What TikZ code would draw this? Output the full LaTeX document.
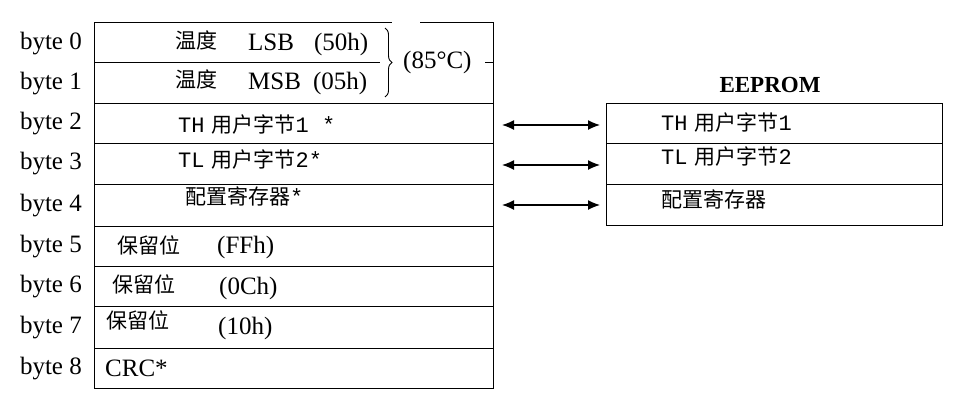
\documentclass[tikz,border=0pt]{standalone}
\usepackage{fontspec}
\setmainfont{Liberation Serif}
\newfontfamily\cjk{Noto Sans CJK SC}
\newfontfamily\mono{Liberation Mono}
\newcommand\mybit[1]{{\mono\fontsize{22}{22}\selectfont #1}}
\usetikzlibrary{decorations.pathreplacing,arrows.meta}
\begin{document}
\begin{tikzpicture}[x=1pt,y=-1pt,
  ln/.style={line width=0.9pt},
  bl/.style={anchor=east,font=\fontsize{25}{25}\selectfont,inner sep=0},
  tx/.style={anchor=west,font=\fontsize{25}{25}\selectfont,inner sep=0},
  cn/.style={anchor=west,font=\cjk\fontsize{21}{21}\selectfont,inner sep=0},
  ar/.style={{Latex[length=12pt,width=10pt]}-{Latex[length=12pt,width=10pt]},line width=1.3pt}]
\useasboundingbox (0,0) rectangle (965,408);
% left table
\draw[ln] (94,22) -- (392,22);
\draw[ln] (420,22) -- (493,22) -- (493,388) -- (94,388) -- (94,22);
\draw[ln] (94,62) -- (380,62);
\draw[ln] (485,62) -- (493,62);
\foreach \y in {103,143,184,226,266,306,348} \draw[ln] (94,\y) -- (493,\y);
\foreach \i/\y in {0/44,1/84,2/124,3/164,4/206,5/247,6/287,7/328,8/369}
  \node[bl] (b\i) at (82,\y) {byte \i};
\node[cn] (t0) at (175,40) {温度}; \node[tx] (l0) at (248,44) {LSB\hspace{20pt}(50h)};
\node[cn] (t1) at (175,79) {温度}; \node[tx] (l1) at (248,83) {MSB\hspace{12pt}(05h)};
\draw[line width=0.9pt,decorate,decoration={brace,amplitude=7pt}] (385,28) -- (385,97);
\node[tx] (c85) at (403,62) {(85°C)};
\node[cn] (r2) at (178,125) {\mybit{TH}\hspace{7pt}用户字节\mybit{1 *}};
\node[cn] (r3) at (178,160) {\mybit{TL}\hspace{7pt}用户字节\mybit{2*}};
\node[cn] (r4) at (185,196) {配置寄存器\mybit{*}};
\node[cn] (r5) at (117,245) {保留位}; \node[tx] (v5) at (217,247) {(FFh)};
\node[cn] (r6) at (112,284) {保留位}; \node[tx] (v6) at (219,288) {(0Ch)};
\node[cn] (r7) at (106,320) {保留位}; \node[tx] (v7) at (218,328) {(10h)};
\node[tx] (r8) at (105,368) {CRC*};
% EEPROM
\node[font=\bfseries\fontsize{23}{23}\selectfont] (ee) at (770,85) {EEPROM};
\draw[ln] (606,103) rectangle (942,225);
\draw[ln] (606,143) -- (942,143);
\draw[ln] (606,184) -- (942,184);
\node[cn] (e1) at (661,123) {\mybit{TH}\hspace{7pt}用户字节\mybit{1}};
\node[cn] (e2) at (661,157) {\mybit{TL}\hspace{7pt}用户字节\mybit{2}};
\node[cn] (e3) at (661,199) {配置寄存器};
\coordinate (a1) at (502,125); \coordinate (a1e) at (600,125);
\coordinate (a2) at (502,165); \coordinate (a2e) at (600,165);
\coordinate (a3) at (502,205); \coordinate (a3e) at (600,205);
\draw[ar] (a1) -- (a1e);
\draw[ar] (a2) -- (a2e);
\draw[ar] (a3) -- (a3e);
\end{tikzpicture}
\end{document}
